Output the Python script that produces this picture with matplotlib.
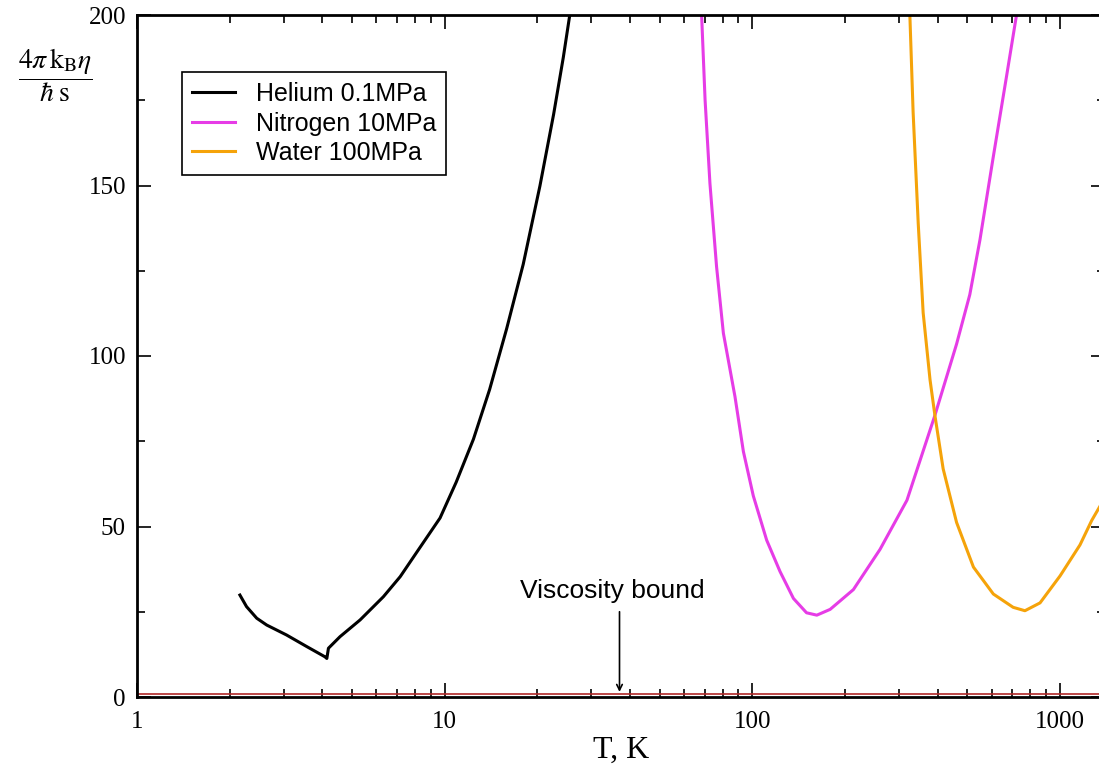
import matplotlib
matplotlib.use("Agg")
import matplotlib.pyplot as plt
from matplotlib.ticker import FixedLocator, FixedFormatter, MultipleLocator, LogLocator, NullFormatter

plt.rcParams['mathtext.fontset'] = 'stix'

# data (T in K, 4*pi*kB*eta/(hbar*s))
he_T = [2.16, 2.27, 2.45, 2.64, 3.06, 3.56, 4.08, 4.14, 4.19, 4.57, 5.31, 6.32, 7.17,
        8.12, 9.66, 10.9, 12.4, 14.0, 15.9, 18.0, 20.4, 22.6, 24.3, 25.5]
he_v = [29.9, 26.5, 23.1, 21.1, 18.2, 14.8, 11.8, 11.3, 14.3, 17.7, 22.6, 29.4, 35.3,
        42.5, 52.5, 63.0, 75.6, 90.2, 108.0, 126.9, 149.9, 170.9, 187.6, 200]

n2_T = [68.4, 70.2, 72.8, 76.5, 80.5, 87.8, 93.5, 100.7, 111.3, 123,
        136, 150, 162, 179, 213, 260, 318, 392, 461, 509, 549, 607, 670, 722]
n2_v = [200, 175.1, 150.6, 126.2, 106.7, 88.1, 72, 59, 46, 36.8,
        28.9, 24.7, 24.0, 25.7, 31.5, 43.3, 57.7, 82.6, 103.5, 118, 134, 158.5, 182, 200]

w_T = [325, 333, 346, 359, 378, 392, 417, 461, 523, 607, 704, 769, 861, 1000, 1161, 1268, 1400]
w_v = [200, 171.6, 138.9, 112.7, 93, 82.6, 66.9, 51.2, 38.1, 30.2, 26.3, 25.3, 27.6,
       35.5, 44.6, 51.8, 58.5]

labels = ["Helium 0.1MPa", "Nitrogen 10MPa", "Water 100MPa"]
colors = ["black", "#e63ce6", "#f5a30a"]

bound_T = [1, 1400]
bound_v = [1, 1]

x_ticks = [1, 10, 100, 1000]
x_tick_labels = ["1", "10", "100", "1000"]
y_ticks = [0, 50, 100, 150, 200]

fig = plt.figure(figsize=(10.99, 7.68), dpi=100)
ax = fig.add_axes([137 / 1099, 71 / 768, (1105 - 137) / 1099, (697 - 15) / 768])

ax.plot(bound_T, bound_v, color="#b02828", lw=1.2)
ax.plot(he_T, he_v, color=colors[0], lw=2.2, label=labels[0])
ax.plot(n2_T, n2_v, color=colors[1], lw=2.2, label=labels[1])
ax.plot(w_T, w_v, color=colors[2], lw=2.2, label=labels[2])

ax.set_xscale("log")
ax.set_xlim(1, 1400)
ax.set_ylim(0, 200)

ax.xaxis.set_major_locator(FixedLocator(x_ticks))
ax.xaxis.set_major_formatter(FixedFormatter(x_tick_labels))
ax.xaxis.set_minor_locator(LogLocator(base=10, subs=range(2, 10)))
ax.xaxis.set_minor_formatter(NullFormatter())
ax.yaxis.set_major_locator(FixedLocator(y_ticks))
ax.yaxis.set_minor_locator(MultipleLocator(25))

ax.tick_params(which="both", direction="in", top=True, right=True, width=1.2)
ax.tick_params(which="major", length=10, labelsize=18, pad=8)
ax.tick_params(axis="x", which="major", pad=10)
ax.tick_params(which="minor", length=6)
for lab in ax.get_xticklabels() + ax.get_yticklabels():
    lab.set_fontfamily("Liberation Serif")
for sp in ax.spines.values():
    sp.set_linewidth(2.0)

ax.set_xlabel("T, K", fontfamily="Liberation Serif", fontsize=23, labelpad=2)

fig.text(55 / 1099, 1 - 75 / 768, r"$\dfrac{4\pi\,\mathrm{k_B}\eta}{\hbar\;\mathrm{s}}$",
         fontsize=20, ha="center", va="center")

ax.text(35, 31, "Viscosity bound", fontfamily="Liberation Sans", fontsize=19,
        ha="center", va="center")
ax.annotate("", xy=(37, 1.5), xytext=(37, 25),
            arrowprops=dict(arrowstyle="->", lw=1.2, color="black",
                            shrinkA=0, shrinkB=0))

leg = ax.legend(loc="upper left", bbox_to_anchor=(182 / 1099, 1 - 72 / 768),
                bbox_transform=fig.transFigure, borderaxespad=0,
                prop={"family": "Liberation Sans", "size": 18},
                fancybox=False, framealpha=1, edgecolor="black",
                handlelength=1.7, handletextpad=0.85, labelspacing=0.22,
                borderpad=0.4)
leg.get_frame().set_linewidth(1.2)

fig.savefig("out.png", dpi=100)
